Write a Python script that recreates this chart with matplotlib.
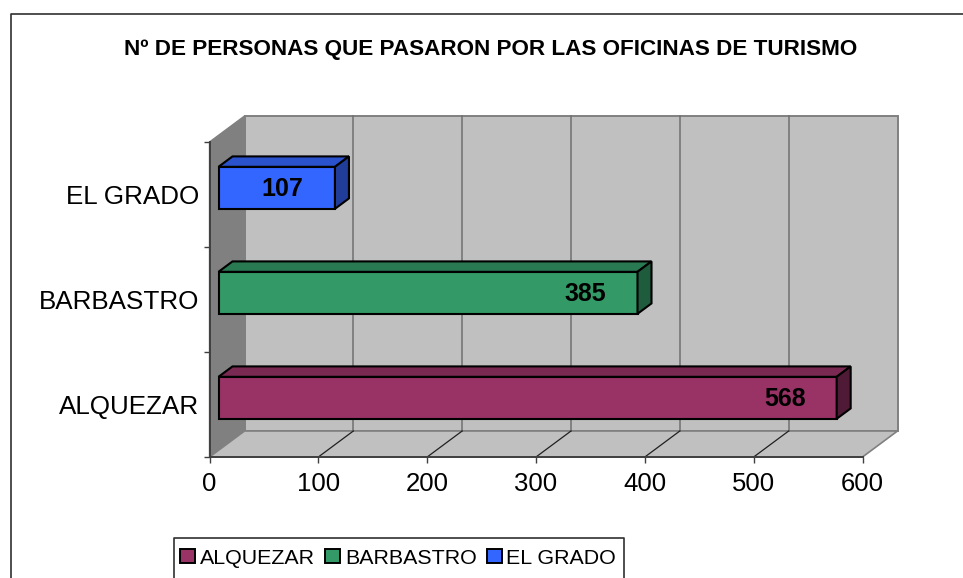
import matplotlib
matplotlib.use("Agg")
import matplotlib.pyplot as plt
from matplotlib.patches import Polygon, Patch
from matplotlib.lines import Line2D

plt.rcParams['font.family'] = ['Liberation Sans', 'DejaVu Sans']

title = "Nº DE PERSONAS QUE PASARON POR LAS OFICINAS DE TURISMO"
categories = ["ALQUEZAR", "BARBASTRO", "EL GRADO"]
values = [568, 385, 107]
front_colors = ["#993366", "#339966", "#3366FF"]
top_colors = ["#7A2952", "#297A52", "#2952CC"]
side_colors = ["#4F1A35", "#1F5C3D", "#1F3D99"]
x_ticks = [0, 100, 200, 300, 400, 500, 600]

W, H = 963, 578
fig = plt.figure(figsize=(W / 100, H / 100), dpi=100, facecolor="white")
ax = fig.add_axes([209.5 / W, (H - 457) / H, 653 / W, 315 / H])
ax.set_xlim(0, 600)
ax.set_ylim(-0.5, 2.5)
ax.patch.set_visible(False)
for s in ax.spines.values():
    s.set_visible(False)

DX = 35 / 653 * 600
DY = 26 / 105


def P(x, y, d):
    return (x + d * DX, y + d * DY)


def poly(pts, **kw):
    ax.add_patch(Polygon(pts, closed=True, clip_on=False, **kw))


def frame(x0, x1, y_top, x1_open):
    """Open frame running off the image edges (figure pixel layout)."""
    xs = [x0 / W, x0 / W] + ([x1 / W] if x1_open else [x1 / W, x1 / W])
    ys = [0, (H - y_top) / H] + ([(H - y_top) / H] if x1_open else [(H - y_top) / H, 0])
    fig.add_artist(Line2D(xs, ys, transform=fig.transFigure, color="#303030", lw=1.2, zorder=-4))


frame(10.5, W, 13.5, True)

yb, yt, xr = -0.5, 2.5, x_ticks[-1]
# walls
poly([P(0, yb, 1), P(xr, yb, 1), P(xr, yt, 1), P(0, yt, 1)], fc="#C0C0C0", ec="#808080", lw=1.4, zorder=1)
poly([P(0, yb, 0), P(0, yb, 1), P(0, yt, 1), P(0, yt, 0)], fc="#808080", ec="#808080", lw=1, zorder=1)
poly([P(0, yb, 0), P(xr, yb, 0), P(xr, yb, 1), P(0, yb, 1)], fc="#C0C0C0", ec="#808080", lw=1.2, zorder=1)
# gridlines
for v in x_ticks[1:-1]:
    ax.plot(*zip(P(v, yb, 1), P(v, yt, 1)), color="#707070", lw=1.1, zorder=2, clip_on=False)
    ax.plot(*zip(P(v, yb, 0), P(v, yb, 1)), color="#202020", lw=0.9, zorder=2, clip_on=False)

# axis edges
ax.plot([0, 0], [yb, yt], color="#404040", lw=1.4, zorder=3, clip_on=False)
ax.plot([0, xr], [yb, yb], color="#404040", lw=1.4, zorder=3, clip_on=False)

# bars
D0, D1 = 9 / 35, 23 / 35
HALF = 0.2
for i, v in enumerate(values):
    kw = dict(ec="black", lw=1.5, joinstyle="miter", zorder=5)
    poly([P(0, i - HALF, D0), P(v, i - HALF, D0), P(v, i + HALF, D0), P(0, i + HALF, D0)],
         fc=front_colors[i], **kw)
    poly([P(0, i + HALF, D0), P(v, i + HALF, D0), P(v, i + HALF, D1), P(0, i + HALF, D1)],
         fc=top_colors[i], **kw)
    poly([P(v, i - HALF, D0), P(v, i - HALF, D1), P(v, i + HALF, D1), P(v, i + HALF, D0)],
         fc=side_colors[i], **kw)
    ax.annotate(str(v), xy=P(v, i, D0), xytext=(-22.5, -0.8), textcoords="offset points",
                ha="right", va="center", fontsize=18, fontweight="bold", color="black", zorder=6)

# ticks
ax.set_xticks(x_ticks)
ax.tick_params(axis="x", length=4.5, width=1, color="#404040", labelsize=18.5, pad=6)
ax.set_yticks([-0.5, 0.5, 1.5, 2.5])
ax.set_yticklabels([])
ax.tick_params(axis="y", which="major", length=4.5, width=1, color="#404040")
ax.set_yticks([0, 1, 2], minor=True)
ax.set_yticklabels(categories, minor=True)
ax.tick_params(axis="y", which="minor", length=0, labelsize=18.7, pad=7.5)

fig.text(491 / W, (H - 49) / H, title, ha="center", va="center", fontsize=16.2, fontweight="bold")

# legend
frame(173.5, 623.5, 537.5, False)
handles = [Patch(fc=c, ec="black", lw=1.4) for c in front_colors]
fig.legend(handles, categories, loc="center left", bbox_to_anchor=(173.5 / W, (H - 558) / H),
           ncol=3, frameon=False, fontsize=15.4, handlelength=0.7, handleheight=0.62,
           handletextpad=0.23, columnspacing=0.47, borderpad=0, borderaxespad=0.3)

fig.savefig("out.png", dpi=100)
